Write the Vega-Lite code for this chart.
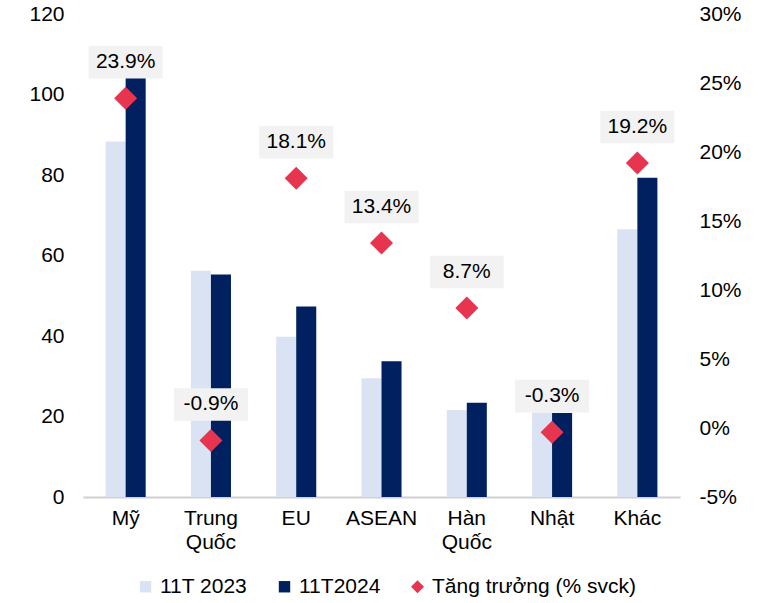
{
  "$schema": "https://vega.github.io/schema/vega-lite/v6.json",
  "width": 597,
  "height": 483,
  "padding": {"left": 28, "top": 3, "right": 5, "bottom": 5},
  "background": "white",
  "config": {
    "view": {"stroke": null},
    "font": "Liberation Sans",
    "axis": {"labelFont": "Liberation Sans", "labelFontSize": 21, "labelColor": "#000000", "grid": false, "ticks": false, "title": null},
    "legend": {"labelFont": "Liberation Sans", "labelFontSize": 21, "labelColor": "#000000", "labelLimit": 0}
  },
  "data": {
    "values": [
      {"cat": "Mỹ", "series": "11T 2023", "value": 88.3},
      {"cat": "Mỹ", "series": "11T2024", "value": 109.4},
      {"cat": "Trung Quốc", "series": "11T 2023", "value": 56.2},
      {"cat": "Trung Quốc", "series": "11T2024", "value": 55.3},
      {"cat": "EU", "series": "11T 2023", "value": 39.8},
      {"cat": "EU", "series": "11T2024", "value": 47.3},
      {"cat": "ASEAN", "series": "11T 2023", "value": 29.5},
      {"cat": "ASEAN", "series": "11T2024", "value": 33.7},
      {"cat": "Hàn Quốc", "series": "11T 2023", "value": 21.6},
      {"cat": "Hàn Quốc", "series": "11T2024", "value": 23.4},
      {"cat": "Nhật", "series": "11T 2023", "value": 21.0},
      {"cat": "Nhật", "series": "11T2024", "value": 20.9},
      {"cat": "Khác", "series": "11T 2023", "value": 66.5},
      {"cat": "Khác", "series": "11T2024", "value": 79.3},
      {"cat": "Mỹ", "series": "Tăng trưởng (% svck)", "growth": 23.9, "label": "23.9%"},
      {"cat": "Trung Quốc", "series": "Tăng trưởng (% svck)", "growth": -0.9, "label": "-0.9%"},
      {"cat": "EU", "series": "Tăng trưởng (% svck)", "growth": 18.1, "label": "18.1%"},
      {"cat": "ASEAN", "series": "Tăng trưởng (% svck)", "growth": 13.4, "label": "13.4%"},
      {"cat": "Hàn Quốc", "series": "Tăng trưởng (% svck)", "growth": 8.7, "label": "8.7%"},
      {"cat": "Nhật", "series": "Tăng trưởng (% svck)", "growth": -0.3, "label": "-0.3%"},
      {"cat": "Khác", "series": "Tăng trưởng (% svck)", "growth": 19.2, "label": "19.2%"}
    ]
  },
  "encoding": {
    "x": {
      "field": "cat",
      "type": "nominal",
      "sort": ["Mỹ", "Trung Quốc", "EU", "ASEAN", "Hàn Quốc", "Nhật", "Khác"],
      "scale": {"paddingInner": 0.53, "paddingOuter": 0.265},
      "axis": {
        "labelAngle": 0,
        "labelPadding": 10,
        "labelLineHeight": 24,
        "labelExpr": "split(datum.label, ' ')",
        "domainColor": "#d0d0d0",
        "domainWidth": 2
      }
    }
  },
  "layer": [
    {
      "transform": [{"filter": "datum.series != 'Tăng trưởng (% svck)'"}],
      "mark": {"type": "bar"},
      "encoding": {
        "xOffset": {"field": "series", "type": "nominal", "sort": ["11T 2023", "11T2024"]},
        "y": {
          "field": "value",
          "type": "quantitative",
          "scale": {"domain": [0, 120]},
          "axis": {"values": [0, 20, 40, 60, 80, 100, 120], "domain": false, "labelPadding": 19}
        },
        "color": {
          "field": "series",
          "type": "nominal",
          "scale": {
            "domain": ["11T 2023", "11T2024", "Tăng trưởng (% svck)"],
            "range": ["#dae3f3", "#002060", "#e8354f"]
          },
          "legend": {
            "title": null,
            "orient": "none",
            "legendX": 52,
            "legendY": 562,
            "direction": "horizontal",
            "symbolType": "square",
            "symbolSize": 130,
            "symbolStrokeWidth": 0,
            "labelFontSize": 21,
            "labelLimit": 0,
            "labelOffset": 4,
            "columnPadding": 26,
            "encode": {
              "symbols": {
                "update": {
                  "shape": {"signal": "datum.value == 'Tăng trưởng (% svck)' ? 'diamond' : 'square'"},
                  "size": {"signal": "datum.value == 'Tăng trưởng (% svck)' ? 170 : 130"},
                  "strokeWidth": {"value": 0}
                }
              }
            }
          }
        }
      }
    },
    {
      "transform": [{"filter": "datum.series == 'Tăng trưởng (% svck)'"}],
      "encoding": {
        "y": {
          "field": "growth",
          "type": "quantitative",
          "scale": {"domain": [-5, 30]},
          "axis": {
            "orient": "right",
            "values": [-5, 0, 5, 10, 15, 20, 25, 30],
            "labelExpr": "datum.value + '%'",
            "domain": false,
            "labelPadding": 19,
            "labelAlign": "left"
          }
        }
      },
      "layer": [
        {
          "mark": {
            "type": "point",
            "shape": "M-1,-0.44H1V0.44H-1Z",
            "size": 5476,
            "filled": true,
            "fill": "#f2f2f2",
            "opacity": 1,
            "yOffset": -36
          },
          "encoding": {}
        },
        {
          "mark": {"type": "point", "shape": "diamond", "size": 529, "filled": true, "opacity": 1},
          "encoding": {
            "color": {"field": "series", "type": "nominal"}
          }
        },
        {
          "mark": {
            "type": "text",
            "font": "Liberation Sans",
            "fontSize": 21,
            "color": "#000000",
            "baseline": "middle",
            "align": "center",
            "yOffset": -36
          },
          "encoding": {"text": {"field": "label", "type": "nominal"}}
        }
      ]
    }
  ],
  "resolve": {"scale": {"y": "independent"}}
}
